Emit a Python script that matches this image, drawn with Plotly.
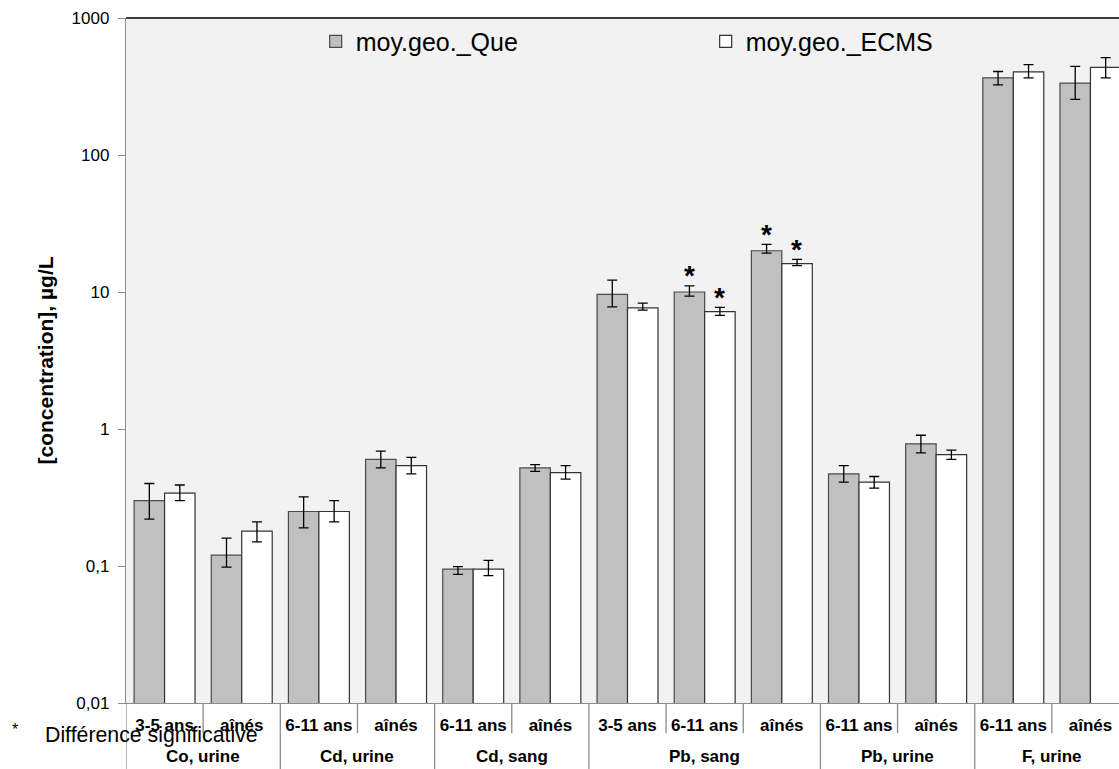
import math
import plotly.graph_objects as go

groups = ["Co, urine", "Co, urine", "Cd, urine", "Cd, urine", "Cd, sang", "Cd, sang",
          "Pb, sang", "Pb, sang", "Pb, sang", "Pb, urine", "Pb, urine", "F, urine", "F, urine"]
subcats = ["3-5 ans", "aînés", "6-11 ans", "aînés", "6-11 ans", "aînés",
           "3-5 ans", "6-11 ans", "aînés", "6-11 ans", "aînés", "6-11 ans", "aînés"]

que = [0.30, 0.12, 0.25, 0.60, 0.095, 0.52, 9.6, 10.0, 20.0, 0.47, 0.78, 366, 335]
que_hi = [0.40, 0.16, 0.32, 0.69, 0.099, 0.55, 12.2, 11.1, 22.3, 0.54, 0.90, 407, 443]
que_lo = [0.22, 0.098, 0.19, 0.52, 0.087, 0.49, 7.8, 9.33, 19.2, 0.41, 0.67, 325, 255]
que_sig = [False, False, False, False, False, False, False, True, True, False, False, False, False]

ecms = [0.34, 0.18, 0.25, 0.54, 0.095, 0.48, 7.67, 7.18, 16.1, 0.41, 0.65, 405, 436]
ecms_hi = [0.39, 0.21, 0.30, 0.62, 0.110, 0.54, 8.3, 7.71, 17.3, 0.45, 0.70, 456, 513]
ecms_lo = [0.30, 0.15, 0.21, 0.47, 0.085, 0.43, 7.38, 6.74, 15.6, 0.37, 0.60, 366, 366]
ecms_sig = [False, False, False, False, False, False, False, True, True, False, False, False, False]

ytick_vals = [0.01, 0.1, 1, 10, 100, 1000]
ytick_text = ["0,01", "0,1", "1", "10", "100", "1000"]

FONT = "Liberation Sans, Arial, sans-serif"
AXIS_GRAY = "#8c8c8c"

# unique category keys (group + subgroup), labelled with the subgroup only
keys = [f"{g} | {s}" for g, s in zip(groups, subcats)]
n = len(keys)

fig = go.Figure()
fig.add_trace(go.Bar(
    x=keys, y=que, name="moy.geo._Que",
    marker=dict(color="#c0c0c0", line=dict(color="#4a4a4a", width=1.2)),
    error_y=dict(type="data", symmetric=False,
                 array=[h - v for h, v in zip(que_hi, que)],
                 arrayminus=[v - l for v, l in zip(que, que_lo)],
                 color="#000000", thickness=1.3, width=5),
))
fig.add_trace(go.Bar(
    x=keys, y=ecms, name="moy.geo._ECMS",
    marker=dict(color="#ffffff", line=dict(color="#333333", width=1.2)),
    error_y=dict(type="data", symmetric=False,
                 array=[h - v for h, v in zip(ecms_hi, ecms)],
                 arrayminus=[v - l for v, l in zip(ecms, ecms_lo)],
                 color="#000000", thickness=1.3, width=5),
))

annotations = []
# significance stars above the error bars (annotation y on a log axis is log10)
for k, s, top in zip(keys, que_sig, que_hi):
    if s:
        annotations.append(dict(x=k, y=math.log10(top), xref="x", yref="y", text="<b>*</b>",
                                showarrow=False, xshift=-15, yshift=10, yanchor="middle",
                                font=dict(family=FONT, size=28, color="#000")))
for k, s, top in zip(keys, ecms_sig, ecms_hi):
    if s:
        annotations.append(dict(x=k, y=math.log10(top), xref="x", yref="y", text="<b>*</b>",
                                showarrow=False, xshift=15, yshift=10, yanchor="middle",
                                font=dict(family=FONT, size=28, color="#000")))

# group labels (centred under each group) and separators
shapes = [dict(type="line", xref="paper", yref="paper", x0=0, x1=1, y0=1, y1=1,
               line=dict(color="#000", width=1.3))]
group_names = []
for g in groups:
    if g not in group_names:
        group_names.append(g)
for g in group_names:
    idx = [i for i, gg in enumerate(groups) if gg == g]
    annotations.append(dict(x=(idx[0] + idx[-1]) / 2, y=-0.0774, xref="x", yref="paper",
                            text=f"<b>{g}</b>", showarrow=False, yanchor="middle",
                            font=dict(family=FONT, size=17, color="#000")))
for i in range(n):
    is_group_start = i == 0 or groups[i] != groups[i - 1]
    shapes.append(dict(type="line", xref="x", yref="paper", x0=i - 0.5, x1=i - 0.5,
                       y0=0, y1=-0.1 if is_group_start else -0.044,
                       line=dict(color=AXIS_GRAY, width=1.3)))

annotations.append(dict(x=-0.112, y=-0.039, xref="paper", yref="paper", xanchor="center", yanchor="middle",
                        text="*", showarrow=False, font=dict(family=FONT, size=16, color="#000")))
annotations.append(dict(x=-0.084, y=-0.047, xref="paper", yref="paper", xanchor="left", yanchor="middle",
                        text="Différence significative", showarrow=False,
                        font=dict(family=FONT, size=21.3, color="#000")))

fig.update_layout(
    width=1119, height=769,
    margin=dict(l=126, r=0, t=18, b=66, autoexpand=False),
    paper_bgcolor="#ffffff", plot_bgcolor="#f2f2f2",
    barmode="group", bargap=0.21, bargroupgap=0,
    font=dict(family=FONT, size=17, color="#000"),
    showlegend=True,
    legend=dict(orientation="h", x=0.191, y=0.999, xanchor="left", yanchor="top",
                bgcolor="rgba(0,0,0,0)", entrywidth=345, entrywidthmode="pixels",
                itemwidth=30, font=dict(family=FONT, size=25, color="#000"),
                traceorder="normal"),
    annotations=annotations,
    shapes=shapes,
    xaxis=dict(type="category", range=[-0.5, 12.37], showline=True, linecolor=AXIS_GRAY,
               linewidth=1.3, ticks="", tickvals=keys, ticktext=subcats, ticklabelstandoff=6,
               tickfont=dict(family=FONT, size=17, color="#000", weight="bold"),
               showgrid=False),
    yaxis=dict(type="log", range=[-2, 3], tickvals=ytick_vals, ticktext=ytick_text,
               showline=True, linecolor=AXIS_GRAY, linewidth=1.3, ticks="outside", ticklen=7,
               tickcolor=AXIS_GRAY, showgrid=False, zeroline=False, ticklabelstandoff=5,
               tickfont=dict(family=FONT, size=17, color="#000"),
               title=dict(text="<b>[concentration], µg/L</b>", standoff=12,
                          font=dict(family=FONT, size=21, color="#000"))),
)

fig.write_html("out.html", config={"displayModeBar": False},
               post_script="document.body.style.margin='0';document.body.style.overflow='hidden';")
